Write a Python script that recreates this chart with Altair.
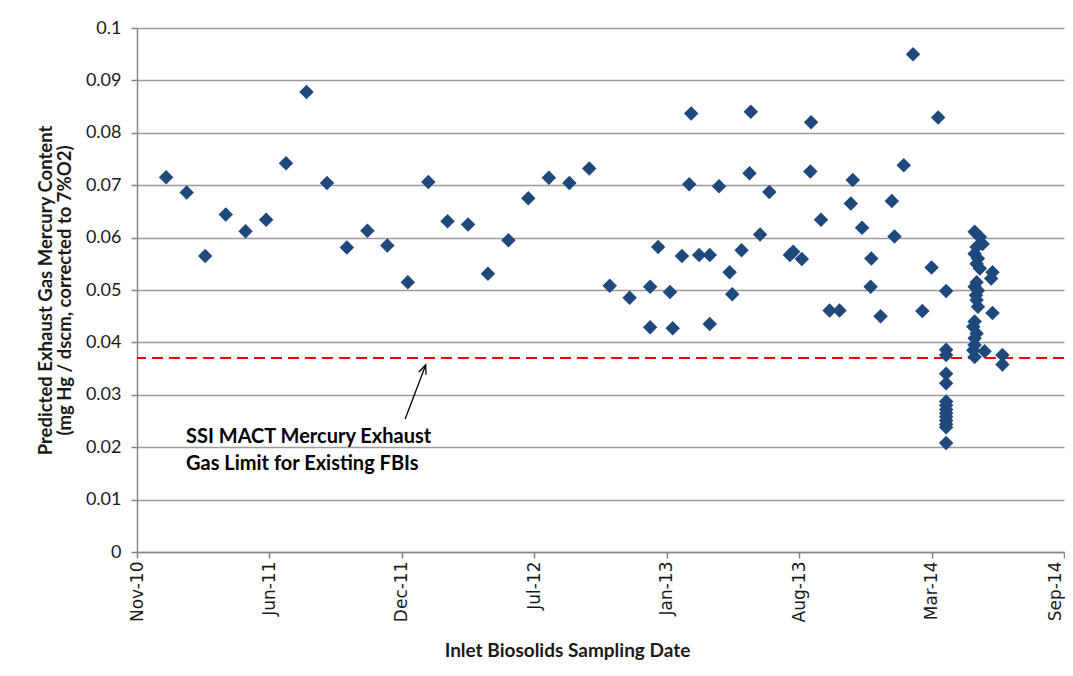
import altair as alt
import pandas as pd

# ---- data ----
dates = [
    "2011-01-01", "2011-02-01", "2011-03-01", "2011-04-01", "2011-05-01", "2011-06-01",
    "2011-07-01", "2011-08-01", "2011-09-01", "2011-10-01", "2011-11-01", "2011-12-01",
    "2012-01-01", "2012-02-01", "2012-03-01", "2012-04-01", "2012-05-01", "2012-06-01",
    "2012-07-01", "2012-08-01", "2012-09-01", "2012-10-01", "2012-11-01", "2012-12-01",
    "2013-01-01", "2013-01-01", "2013-01-13", "2013-01-31", "2013-02-04", "2013-02-18",
    "2013-03-01", "2013-03-04", "2013-03-16", "2013-04-01", "2013-04-01", "2013-04-15",
    "2013-05-01", "2013-05-05", "2013-05-19", "2013-05-31", "2013-06-02", "2013-06-16",
    "2013-06-30", "2013-07-31", "2013-08-05", "2013-08-18", "2013-08-31", "2013-09-01",
    "2013-09-16", "2013-09-29", "2013-10-14", "2013-10-31", "2013-11-03", "2013-11-17",
    "2013-11-30", "2013-12-01", "2013-12-15", "2014-01-01", "2014-01-05", "2014-01-19",
    "2014-02-02", "2014-02-16", "2014-03-02", "2014-03-12", "2014-03-24",
    # Mar-14 cluster
    "2014-03-24", "2014-03-24", "2014-03-24", "2014-03-24", "2014-03-24", "2014-03-24",
    "2014-03-24", "2014-03-24", "2014-03-24", "2014-03-24", "2014-03-24", "2014-03-24",
    "2014-03-24",
    # May/Jun-14 cluster
    "2014-05-06", "2014-05-14", "2014-05-18", "2014-05-09", "2014-05-06", "2014-05-11",
    "2014-05-09", "2014-05-14", "2014-06-02", "2014-05-31", "2014-05-09", "2014-05-06",
    "2014-05-11", "2014-05-08", "2014-05-09", "2014-05-11", "2014-06-02", "2014-05-06",
    "2014-05-04", "2014-05-09", "2014-05-06", "2014-05-06", "2014-05-04", "2014-05-06",
    "2014-05-21", "2014-06-17", "2014-06-17",
]
values = [
    0.0715, 0.0686, 0.0565, 0.0644, 0.0612, 0.0634,
    0.0742, 0.0878, 0.0704, 0.0581, 0.0613, 0.0585,
    0.0515, 0.0706, 0.0631, 0.0625, 0.0531, 0.0595,
    0.0675, 0.0714, 0.0704, 0.0732, 0.0508, 0.0485,
    0.0506, 0.0429, 0.0582, 0.0496, 0.0427, 0.0565,
    0.0702, 0.0837, 0.0567, 0.0567, 0.0435, 0.0698,
    0.0534, 0.0492, 0.0576, 0.0723, 0.0840, 0.0606,
    0.0687, 0.0567, 0.0573, 0.0559, 0.0726, 0.0820,
    0.0634, 0.0461, 0.0461, 0.0665, 0.0710, 0.0619,
    0.0506, 0.0560, 0.0450, 0.0670, 0.0602, 0.0738,
    0.0950, 0.0460, 0.0543, 0.0829, 0.0498,
    0.0386, 0.0376, 0.0340, 0.0322, 0.0287, 0.0280,
    0.0272, 0.0265, 0.0258, 0.0251, 0.0244, 0.0238,
    0.0208,
    0.0611, 0.0601, 0.0588, 0.0582, 0.0569, 0.0560,
    0.0550, 0.0541, 0.0534, 0.0522, 0.0515, 0.0506,
    0.0499, 0.0490, 0.0481, 0.0468, 0.0456, 0.0440,
    0.0430, 0.0417, 0.0408, 0.0395, 0.0385, 0.0372,
    0.0383, 0.0376, 0.0358,
]

limit_value = [0.037]
x_domain = ["2010-11-18", "2014-09-18"]
x_ticks = ["2010-11-18", "2011-06-06", "2011-12-23", "2012-07-10",
           "2013-01-26", "2013-08-14", "2014-03-02", "2014-09-18"]
y_ticks = [0, 0.01, 0.02, 0.03, 0.04, 0.05, 0.06, 0.07, 0.08, 0.09, 0.1]

arrow_dates = ["2011-12-28", "2012-01-28"]
arrow_values = [0.0254, 0.0357]
note_dates = ["2011-01-31", "2011-01-31"]
note_values = [0.0220, 0.0167]
note_lines = ["SSI MACT Mercury Exhaust", "Gas Limit for Existing FBIs"]

y_title = ["Predicted Exhaust Gas Mercury Content", "(mg Hg / dscm, corrected to 7%O2)"]
x_title = "Inlet Biosolids Sampling Date"

# ---- tables ----
pts = pd.DataFrame({"date": dates, "value": values})
lim = pd.DataFrame({"value": limit_value})
arr = pd.DataFrame({"date": [arrow_dates[0]], "value": [arrow_values[0]],
                    "date2": [arrow_dates[1]], "value2": [arrow_values[1]]})
head = pd.DataFrame({"date": [arrow_dates[1]], "value": [arrow_values[1]]})
note = pd.DataFrame({"date": note_dates, "value": note_values, "label": note_lines})


def utc_dt(s):
    y, m, d = (int(p) for p in s.split("-"))
    return alt.DateTime(year=y, month=m, date=d, utc=True)


x_scale = alt.Scale(type="utc", domain=[utc_dt(s) for s in x_domain], nice=False)
y_scale = alt.Scale(domain=[0, 0.1], nice=False, zero=True)

x_axis = alt.Axis(
    values=[utc_dt(s) for s in x_ticks], format="%b-%y", labelAngle=-90,
    labelFont="DejaVu Sans", labelFontSize=17, labelColor="#1a1a1a", labelPadding=3,
    labelOffset={"condition": {"test": "datum.value > 1400000000000", "value": -9}, "value": 0},
    tickSize=6, tickColor="#868686", tickWidth=1.5,
    domainColor="#868686", domainWidth=1.5, grid=False,
    title=x_title, titleFont="Lato", titleFontSize=19, titleFontWeight="bold",
    titleColor="#1a1a1a", titleX=430, titleY=98, titleAlign="center",
    titleBaseline="middle", labelOverlap=False, labelBound=False, labelFlush=False,
)
y_axis = alt.Axis(
    values=y_ticks, format=".2~f",
    labelFont="Lato", labelFontSize=18, labelColor="#1a1a1a", labelPadding=10,
    tickSize=6, tickColor="#868686", tickWidth=1.5,
    domainColor="#868686", domainWidth=1.5,
    grid=True, gridColor="#9a9a9a", gridWidth=1.3,
    title=y_title, titleFont="Lato", titleFontSize=18.5, titleFontWeight="bold",
    titleColor="#1a1a1a", titleX=-101, titleY=262, titleAlign="center",
    titleBaseline="top", titleAngle=-90, titleLineHeight=19,
    labelOverlap=False, labelFlush=False,
)

X = alt.X("date:T", scale=x_scale, axis=x_axis)
Y = alt.Y("value:Q", scale=y_scale, axis=y_axis)

points = alt.Chart(pts).mark_point(
    shape="diamond", filled=True, size=210, color="#1F497D", opacity=1
).encode(x=X, y=Y)

limit = alt.Chart(lim).mark_rule(
    color="#FF0000", strokeDash=[11, 6], strokeWidth=2
).encode(y=alt.Y("value:Q", scale=y_scale))

arrow = alt.Chart(arr).mark_rule(color="#000000", strokeWidth=1.3).encode(
    x=alt.X("date:T", scale=x_scale), y=alt.Y("value:Q", scale=y_scale),
    x2="date2:T", y2="value2:Q",
)

arrow_head = alt.Chart(head).mark_point(
    shape="M -0.42 1 L 0 0 L 0.42 1", filled=False, size=324, angle=21,
    stroke="#000000", strokeWidth=1.3, opacity=1,
).encode(x=alt.X("date:T", scale=x_scale), y=alt.Y("value:Q", scale=y_scale))

notes = alt.Chart(note).mark_text(
    align="left", baseline="middle", font="Lato", fontSize=20, fontWeight="bold",
    color="#000000",
).encode(x=alt.X("date:T", scale=x_scale), y=alt.Y("value:Q", scale=y_scale), text="label:N")

chart = alt.layer(limit, points, arrow, arrow_head, notes).properties(
    width=927, height=524,
    autosize=alt.AutoSizeParams(type="none"),
    padding={"left": 129, "top": 20, "right": 1, "bottom": 116},
    background="#ffffff",
).configure_view(stroke=None)

chart.save("out.html", embed_options={"renderer": "svg", "actions": False})
